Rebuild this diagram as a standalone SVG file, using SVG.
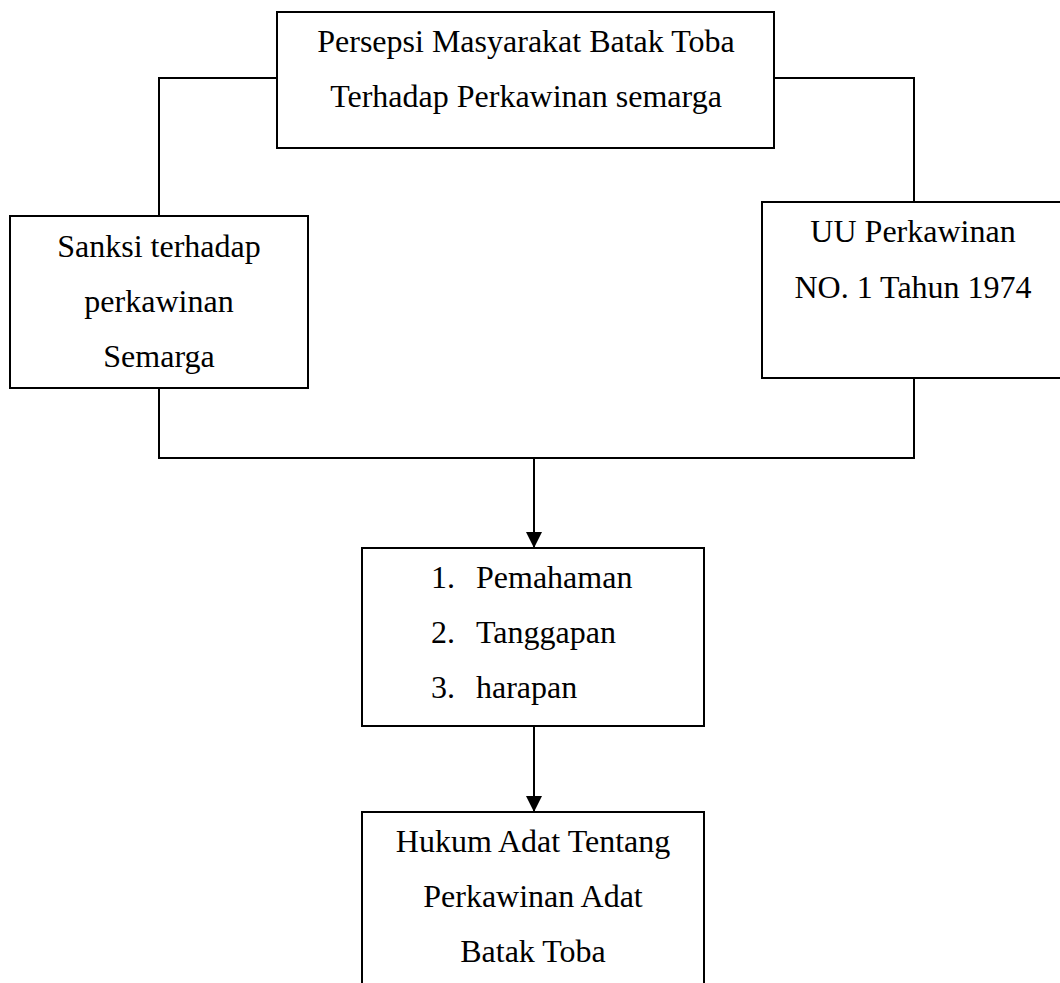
<svg xmlns="http://www.w3.org/2000/svg" width="1060" height="983" viewBox="0 0 1060 983">
<style>
.box{fill:#fff;stroke:#000;stroke-width:2}
.ln{fill:none;stroke:#000;stroke-width:2}
text{font-family:"Liberation Serif","Times New Roman",serif;font-size:32px;fill:#000}
.c{text-anchor:middle}
</style>
<defs>
<marker id="ah" markerUnits="userSpaceOnUse" markerWidth="16" markerHeight="16" viewBox="0 0 16 16" refX="16" refY="8" orient="auto">
<path d="M0,0 L16,8 L0,16 Z" fill="#000"/>
</marker>
</defs>
<rect width="1060" height="983" fill="#fff"/>
<g id="connectors">
<polyline class="ln" points="277,78 159,78 159,216"/>
<polyline class="ln" points="774,78 914,78 914,202"/>
<polyline class="ln" points="159,388 159,458 914,458 914,378"/>
<line class="ln" x1="534" y1="458" x2="534" y2="548" marker-end="url(#ah)"/>
<line class="ln" x1="534" y1="726" x2="534" y2="812" marker-end="url(#ah)"/>
</g>
<g id="persepsi">
<rect class="box" x="277" y="12" width="497" height="136"/>
<text class="c" x="526" y="52">Persepsi Masyarakat Batak Toba</text>
<text class="c" x="526" y="107">Terhadap Perkawinan semarga</text>
</g>
<g id="sanksi">
<rect class="box" x="10" y="216" width="298" height="172"/>
<text class="c" x="159" y="257">Sanksi terhadap</text>
<text class="c" x="159" y="312">perkawinan</text>
<text class="c" x="159" y="367">Semarga</text>
</g>
<g id="uu">
<rect class="box" x="762" y="202" width="320" height="176"/>
<text class="c" x="913" y="242">UU Perkawinan</text>
<text class="c" x="913" y="298">NO. 1 Tahun 1974</text>
</g>
<g id="list">
<rect class="box" x="362" y="548" width="342" height="178"/>
<text x="431" y="588">1.</text><text x="476" y="588">Pemahaman</text>
<text x="431" y="643">2.</text><text x="476" y="643">Tanggapan</text>
<text x="431" y="698">3.</text><text x="476" y="698">harapan</text>
</g>
<g id="hukum">
<rect class="box" x="362" y="812" width="342" height="200"/>
<text class="c" x="533" y="852">Hukum Adat Tentang</text>
<text class="c" x="533" y="907">Perkawinan Adat</text>
<text class="c" x="533" y="962">Batak Toba</text>
</g>
</svg>
